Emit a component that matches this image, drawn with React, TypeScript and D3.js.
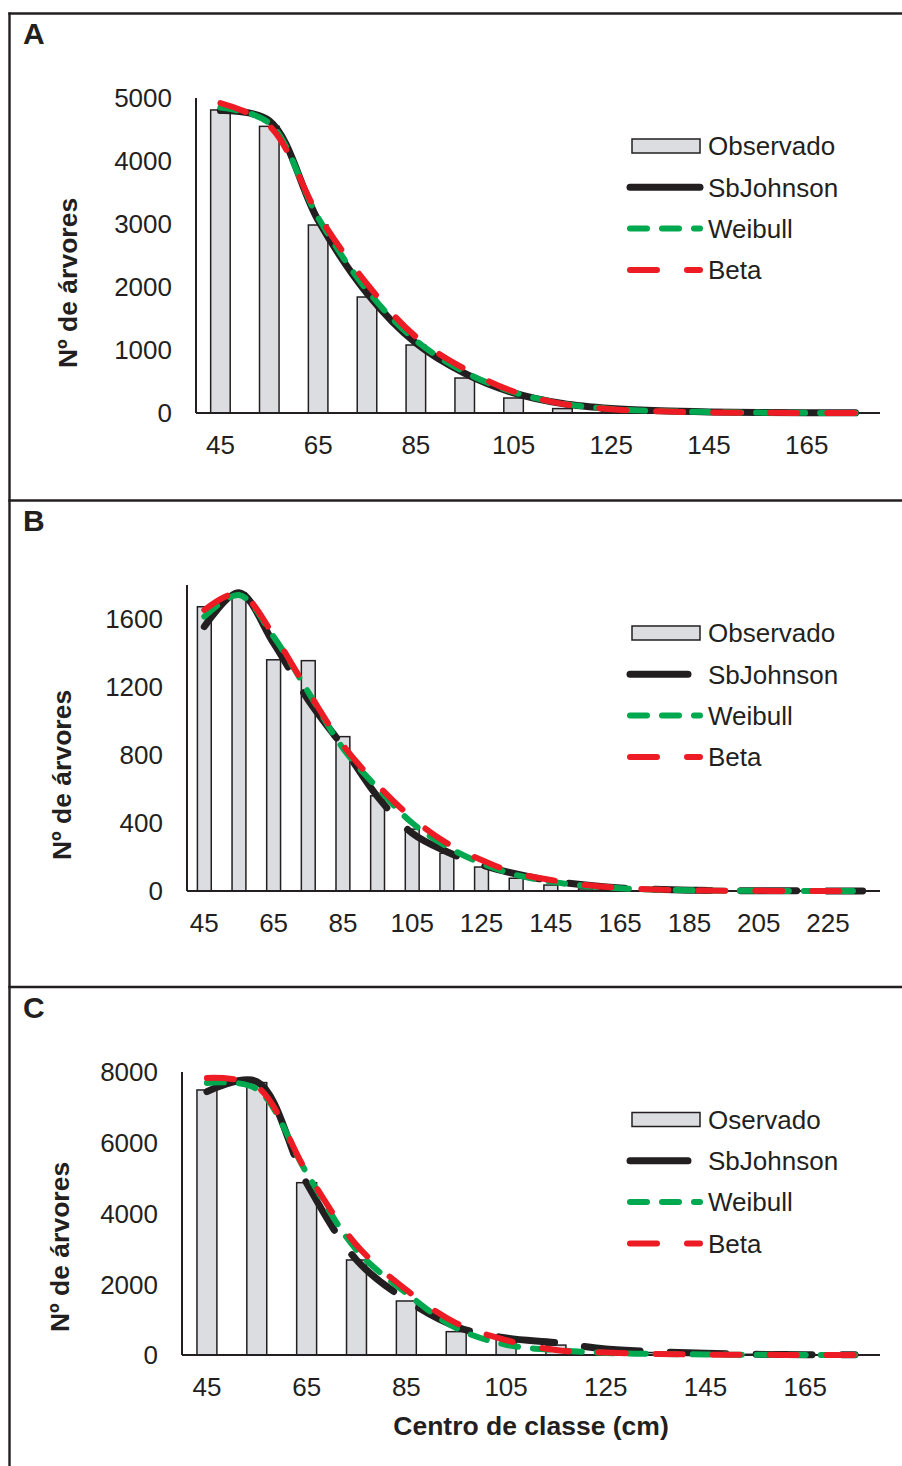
import React from 'react';
import * as d3 from 'd3';

// ---------- DATA ----------
const catsA = [45, 55, 65, 75, 85, 95, 105, 115, 125, 135, 145, 155, 165, 175];
const obsA = [4810, 4550, 2984, 1841, 1079, 555, 238, 70, 20, 8, 4, 2, 1, 0];
const sbA = [4800, 4640, 3060, 1900, 1110, 630, 320, 150, 70, 35, 17, 8, 4, 2];
const wbA = [4850, 4600, 3100, 1950, 1150, 650, 330, 150, 65, 30, 14, 6, 2, 1];
const beA = [4920, 4560, 3150, 2050, 1210, 700, 340, 145, 60, 26, 10, 4, 1, 0];
const yTicksA = [0, 1000, 2000, 3000, 4000, 5000];
const xLabelsA = [45, 65, 85, 105, 125, 145, 165];

const catsB = [45, 55, 65, 75, 85, 95, 105, 115, 125, 135, 145, 155, 165, 175, 185, 195, 205, 215, 225, 235];
const obsB = [1672, 1755, 1360, 1355, 908, 560, 364, 222, 141, 75, 35, 12, 6, 3, 2, 1, 0, 0, 0, 0];
const sbB = [1555, 1755, 1458, 1124, 849, 555, 340, 231, 153, 100, 60, 35, 18, 10, 5, 3, 1, 1, 0, 0];
const wbB = [1614, 1741, 1496, 1170, 840, 606, 400, 261, 163, 94, 55, 30, 16, 8, 4, 2, 1, 0, 0, 0];
const beB = [1653, 1751, 1506, 1173, 859, 624, 429, 282, 182, 105, 65, 35, 18, 9, 4, 2, 1, 0, 0, 0];
const yTicksB = [0, 400, 800, 1200, 1600];
const xLabelsB = [45, 65, 85, 105, 125, 145, 165, 185, 205, 225];

const catsC = [45, 55, 65, 75, 85, 95, 105, 115, 125, 135, 145, 155, 165, 175];
const obsC = [7492, 7700, 4871, 2686, 1527, 660, 490, 280, 130, 70, 40, 20, 10, 5];
const sbC = [7445, 7730, 4860, 2686, 1555, 800, 480, 350, 170, 95, 50, 20, 10, 5];
const wbC = [7690, 7520, 5145, 2970, 1750, 760, 290, 140, 60, 30, 15, 7, 3, 1];
const beC = [7830, 7590, 5180, 3110, 1840, 900, 420, 140, 70, 30, 12, 5, 2, 1];
const yTicksC = [0, 2000, 4000, 6000, 8000];
const xLabelsC = [45, 65, 85, 105, 125, 145, 165];

const legendA = ['Observado', 'SbJohnson', 'Weibull', 'Beta'];
const legendB = ['Observado', 'SbJohnson', 'Weibull', 'Beta'];
const legendC = ['Oservado', 'SbJohnson', 'Weibull', 'Beta'];

// ---------- STYLE ----------
const W = 902;
const H = 1466;
const FONT = "'Liberation Sans', Arial, Helvetica, sans-serif";
const INK = '#231f20';
const BAR_FILL = '#dcdde0';
const GREEN = '#00a84f';
const RED = '#ed1c24';
const LWB = 7;
const LW = 6;
const FS = 26;
const FSB = 26.5;

type Cfg = {
  letter: string;
  top: number;
  cats: number[];
  obs: number[];
  sb: number[];
  wb: number[];
  be: number[];
  yMax: number;
  yTicks: number[];
  xLabels: number[];
  x0: number;
  x1: number;
  y0: number;
  y1: number;
  labelRight: number;
  titleX: number;
  titleY: number;
  legend: string[];
  sbDash: string | null;
  sbLegendEnd: number;
  xTitle?: string;
};

function Panel({ c }: { c: Cfg }) {
  const xs = d3.scaleBand<number>().domain(c.cats).range([c.x0, c.x1]).padding(0);
  const bw = xs.bandwidth();
  const cx = (v: number) => (xs(v) as number) + bw / 2;
  const ys = d3.scaleLinear().domain([0, c.yMax]).range([c.y0, c.y1]);
  const line = d3
    .line<number>()
    .x((_, i) => cx(c.cats[i]))
    .y((v) => ys(v))
    .curve(d3.curveCatmullRom.alpha(0.5));
  const legTop = c.top + 132.5;
  const rowGap = 41.3;
  const lx0 = 630;
  const lx1 = 700;
  return (
    <g>
      <text x={23} y={c.top + 30.5} fontFamily={FONT} fontWeight="bold" fontSize={30} fill={INK}>
        {c.letter}
      </text>
      {/* bars */}
      {c.cats.map((k, i) => (
        <rect
          key={k}
          x={(xs(k) as number) + bw * 0.3}
          y={ys(c.obs[i])}
          width={bw * 0.4}
          height={c.y0 - ys(c.obs[i])}
          fill={BAR_FILL}
          stroke={INK}
          strokeWidth={1.5}
        />
      ))}
      {/* axes */}
      <line x1={c.x0} x2={c.x0} y1={c.y1} y2={c.y0} stroke={INK} strokeWidth={2} />
      <line x1={c.x0} x2={c.x1} y1={c.y0} y2={c.y0} stroke={INK} strokeWidth={2} />
      {c.yTicks.map((t) => (
        <text
          key={t}
          x={c.labelRight}
          y={ys(t) + 9.3}
          textAnchor="end"
          fontFamily={FONT}
          fontSize={FS}
          fill={INK}
        >
          {t}
        </text>
      ))}
      {c.xLabels.map((t) => (
        <text
          key={t}
          x={cx(t)}
          y={c.y0 + 41}
          textAnchor="middle"
          fontFamily={FONT}
          fontSize={FS}
          fill={INK}
        >
          {t}
        </text>
      ))}
      <text
        transform={`translate(${c.titleX},${c.titleY}) rotate(-90)`}
        textAnchor="middle"
        fontFamily={FONT}
        fontWeight="bold"
        fontSize={FSB}
        fill={INK}
      >
        Nº de árvores
      </text>
      {c.xTitle && (
        <text
          x={531}
          y={c.y0 + 80}
          textAnchor="middle"
          fontFamily={FONT}
          fontWeight="bold"
          fontSize={FSB}
          fill={INK}
        >
          {c.xTitle}
        </text>
      )}
      {/* curves */}
      <path
        d={line(c.sb) || ''}
        fill="none"
        stroke={INK}
        strokeWidth={LWB}
        strokeLinecap="round"
        strokeLinejoin="round"
        strokeDasharray={c.sbDash || undefined}
      />
      <path
        d={line(c.wb) || ''}
        fill="none"
        stroke={GREEN}
        strokeWidth={LW}
        strokeLinecap="round"
        strokeDasharray="17 15"
      />
      <path
        d={line(c.be) || ''}
        fill="none"
        stroke={RED}
        strokeWidth={LW}
        strokeLinecap="round"
        strokeDasharray="27 30"
      />
      {/* legend */}
      <rect x={632} y={legTop - 7} width={68} height={14} fill={BAR_FILL} stroke={INK} strokeWidth={1.5} />
      <line x1={lx0} x2={c.sbLegendEnd} y1={legTop + rowGap} y2={legTop + rowGap} stroke={INK} strokeWidth={LWB} strokeLinecap="round" />
      <line x1={lx0} x2={lx1} y1={legTop + rowGap * 2} y2={legTop + rowGap * 2} stroke={GREEN} strokeWidth={LW} strokeLinecap="round" strokeDasharray="17 15" />
      <line x1={lx0} x2={lx1} y1={legTop + rowGap * 3} y2={legTop + rowGap * 3} stroke={RED} strokeWidth={LW} strokeLinecap="round" strokeDasharray="27 30" />
      {c.legend.map((s, i) => (
        <text key={s} x={708} y={legTop + rowGap * i + 9.3} fontFamily={FONT} fontSize={FS} fill={INK}>
          {s}
        </text>
      ))}
    </g>
  );
}

const dashB = '140 30 56 30 56 30 56 30 56 30 56 30 56 30 56 30 56 30 56 30 56 30 56 30 56 30';
const dashC = '135 30 56 30 56 30 56 30 56 30 56 30 56 30 56 30 56 30 56 30 56 30 56 30 56 30';

const panels: Cfg[] = [
  {
    letter: 'A', top: 13.5, cats: catsA, obs: obsA, sb: sbA, wb: wbA, be: beA,
    yMax: 5000, yTicks: yTicksA, xLabels: xLabelsA,
    x0: 196, x1: 880, y0: 413, y1: 98, labelRight: 172, titleX: 77, titleY: 283,
    legend: legendA, sbDash: null, sbLegendEnd: 700,
  },
  {
    letter: 'B', top: 500.5, cats: catsB, obs: obsB, sb: sbB, wb: wbB, be: beB,
    yMax: 1800, yTicks: yTicksB, xLabels: xLabelsB,
    x0: 187, x1: 880, y0: 891, y1: 585, labelRight: 163, titleX: 71, titleY: 775,
    legend: legendB, sbDash: dashB, sbLegendEnd: 688,
  },
  {
    letter: 'C', top: 987, cats: catsC, obs: obsC, sb: sbC, wb: wbC, be: beC,
    yMax: 8000, yTicks: yTicksC, xLabels: xLabelsC,
    x0: 182, x1: 880, y0: 1355, y1: 1072, labelRight: 158, titleX: 69, titleY: 1247,
    legend: legendC, sbDash: dashC, sbLegendEnd: 688,
    xTitle: 'Centro de classe (cm)',
  },
];

export default function App() {
  return (
    <svg
      width={W}
      height={H}
      viewBox={`0 0 ${W} ${H}`}
      style={{ position: 'absolute', left: 0, top: 0, background: '#fff' }}
    >
      <rect x={0} y={0} width={W} height={H} fill="#fff" />
      {/* frame */}
      <line x1={9.5} x2={9.5} y1={12.5} y2={H} stroke={INK} strokeWidth={2.4} />
      <line x1={8.3} x2={W} y1={13.5} y2={13.5} stroke={INK} strokeWidth={2.4} />
      <line x1={8.3} x2={W} y1={500.5} y2={500.5} stroke={INK} strokeWidth={2.4} />
      <line x1={8.3} x2={W} y1={987} y2={987} stroke={INK} strokeWidth={2.4} />
      {panels.map((p) => (
        <Panel key={p.letter} c={p} />
      ))}
    </svg>
  );
}
